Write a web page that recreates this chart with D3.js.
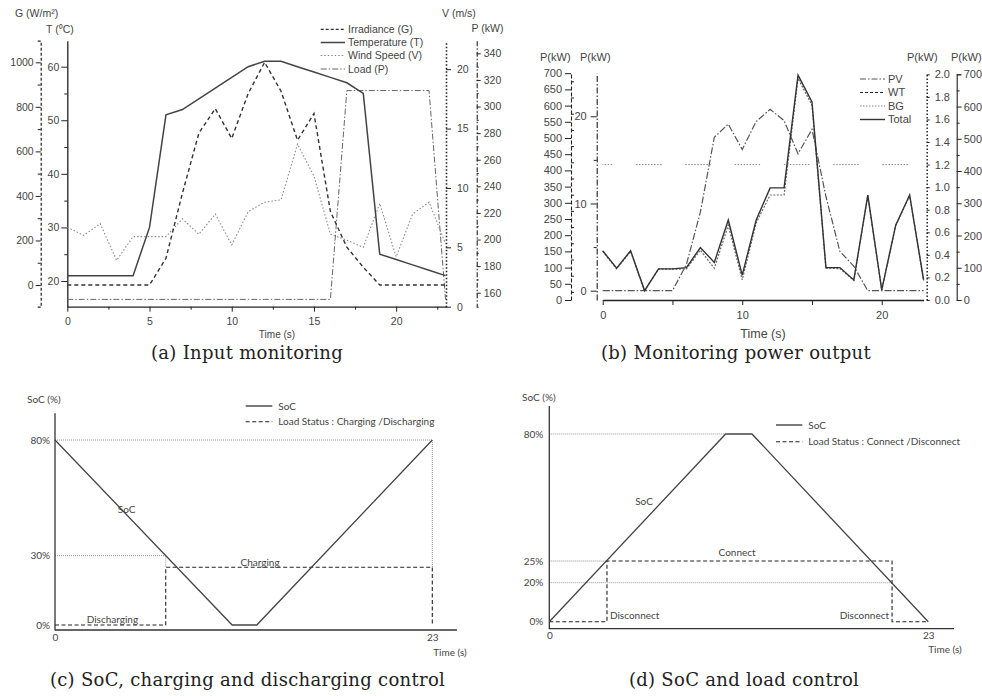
<!DOCTYPE html>
<html>
<head>
<meta charset="utf-8">
<script src="https://cdn.jsdelivr.net/npm/d3@7"></script>
<style>
body { margin: 0; background: #fff; }
svg { display: block; }
.sans text { font-family: "Liberation Sans", Arial, sans-serif; fill: #444; }
.pa text { font-size: 10.5px; }
.pb text { font-size: 11px; }
.soc text { font-family: Lato, "Open Sans", sans-serif; font-size: 10px; fill: #444; }
.cap { font-family: "DejaVu Serif", serif; font-size: 18px; letter-spacing: 0.3px; fill: #222; }
</style>
</head>
<body>
<div id="chart"></div>
<script>
let W = 982;
let H = 696;

// ---- (a) input monitoring ----
let hours = d3.range(0, 24);
let irradiance = [0, 0, 0, 0, 0, 0, 120, 412, 682, 792, 658, 860, 1000, 870, 650, 770, 330, 170, 80, 0, 0, 0, 0, 0];
let temperature = [21, 21, 21, 21, 21, 30, 51, 52, 54, 56, 58, 60, 61, 61, 60, 59, 58, 57, 55, 25, 24, 23, 22, 21];
let windSpeed = [6.7, 6.0, 7.0, 3.9, 5.9, 5.9, 5.9, 7.4, 6.1, 7.8, 5.2, 8.0, 8.8, 9.0, 13.7, 11.0, 6.1, 5.6, 5.0, 8.7, 4.2, 7.8, 8.8, 5.3];
let loadPower = [155, 155, 155, 155, 155, 155, 155, 155, 155, 155, 155, 155, 155, 155, 155, 155, 155, 312, 312, 312, 312, 312, 312, 155];

// ---- (b) power output ----
let pvPower = [0, 0, 0, 0, 0, 0, 3.0, 9.0, 17.6, 19.1, 16.2, 19.4, 20.8, 19.5, 15.7, 18.5, 10.8, 4.5, 2.8, 0, 0, 0, 0, 0];
let wtPower = [150, 96, 150, 28, 95, 95, 96, 154, 98, 231, 62, 238, 324, 324, 684, 601, 98, 97, 60, 322, 30, 229, 322, 60];
let bgPower = [1.2, 1.2, 1.2, 1.2, 1.2, 1.2, 1.2, 1.2, 1.2, 1.2, 1.2, 1.2, 1.2, 1.2, 1.2, 1.2, 1.2, 1.2, 1.2, 1.2, 1.2, 1.2, 1.2, 1.2];
let totalPower = [152, 98, 152, 29, 96, 96, 100, 162, 116, 247, 77, 247, 346, 346, 694, 611, 100, 100, 62, 324, 31, 231, 324, 62];

// ---- (c) SoC, charging / discharging ----
let socCTime = [0, 10.8, 12.3, 23];
let socCValue = [80, 0, 0, 80];
let chargeTime = [0, 6.75, 6.75, 23, 23];
let chargeValue = [0, 0, 25, 25, 0];
let socCTicks = [0, 30, 80];
let guideC = [[0, 80, 23, 80], [23, 80, 23, 25], [0, 30, 6.75, 30], [6.75, 30, 6.75, 25]];

// ---- (d) SoC and load ----
let socDTime = [0, 10.7, 12.3, 23];
let socDValue = [0, 80, 80, 0];
let connectTime = [0, 3.5, 3.5, 20.8, 20.8, 23];
let connectValue = [0, 0, 25, 25, 0, 0];
let socDTicks = [0, 20, 25, 80];
let guideD = [[0, 80, 10.7, 80], [0, 25, 3.5, 25], [0, 20, 20.8, 20]];

let svg = d3.select("#chart").append("svg")
    .attr("width", W)
    .attr("height", H);

function addAxis(parent, axis, tx, ty, dash, width) {
    let g = parent.append("g")
        .attr("transform", "translate(" + tx + "," + ty + ")")
        .call(axis);
    g.attr("font-family", null).attr("font-size", null);
    g.select(".domain")
        .attr("stroke", "#222")
        .attr("stroke-width", width || 1)
        .attr("stroke-dasharray", dash || null);
    g.selectAll(".tick line").attr("stroke", "#222");
    g.selectAll(".tick text").attr("fill", "#444");
    return g;
}

function addMinor(parent, axis, tx, ty) {
    let g = parent.append("g")
        .attr("transform", "translate(" + tx + "," + ty + ")")
        .call(axis.tickFormat(""));
    g.select(".domain").remove();
    g.selectAll(".tick line").attr("stroke", "#222");
}

function legendRow(parent, x1, x2, y, label, stroke, dash, width) {
    parent.append("line")
        .attr("x1", x1).attr("x2", x2)
        .attr("y1", y).attr("y2", y)
        .attr("stroke", stroke)
        .attr("stroke-width", width)
        .attr("stroke-dasharray", dash);
    parent.append("text")
        .attr("x", x2 + 3)
        .attr("y", y)
        .attr("dy", "0.35em")
        .text(label);
}

// =================== (a) ===================
let pa = svg.append("g").attr("class", "sans pa");

let xA = d3.scaleLinear().domain([0, 23]).range([67.3, 445.5]);
let gScale = d3.scaleLinear().domain([-97.4, 1097]).range([306.7, 40.7]);
let tScale = d3.scaleLinear().domain([15.2, 64.85]).range([306.7, 40.7]);
let vScale = d3.scaleLinear().domain([0, 22.4]).range([306.7, 40.7]);
let pScale = d3.scaleLinear().domain([149.5, 349.5]).range([306.7, 40.7]);

addAxis(pa, d3.axisBottom(xA).tickValues([0, 5, 10, 15, 20]).tickSize(5).tickPadding(6).tickSizeOuter(0), 0, 306.7, null, 1.3);
addMinor(pa, d3.axisBottom(xA).tickValues([2.5, 7.5, 12.5, 17.5, 22.5]).tickSize(3), 0, 306.7);

addAxis(pa, d3.axisLeft(gScale).tickValues(d3.range(0, 1001, 200)).tickFormat(d3.format("d"))
    .tickSize(5).tickPadding(2).tickSizeOuter(3), 40.7, 0, "3,2", 1.2);
addMinor(pa, d3.axisLeft(gScale).tickValues(d3.range(100, 1001, 200)).tickSize(3), 40.7, 0);

addAxis(pa, d3.axisLeft(tScale).tickValues([20, 30, 40, 50, 60]).tickSize(6).tickPadding(2).tickSizeOuter(0), 67.3, 0, null, 1.3);
addMinor(pa, d3.axisLeft(tScale).tickValues([25, 35, 45, 55]).tickSize(3), 67.3, 0);

addAxis(pa, d3.axisRight(vScale).tickValues([0, 5, 10, 15, 20]).tickSize(5).tickPadding(6).tickSizeOuter(0), 446, 0, "1.5,2", 1.6);

addAxis(pa, d3.axisRight(pScale).tickValues(d3.range(160, 341, 20)).tickSize(4).tickPadding(3).tickSizeOuter(2), 476.7, 0, "5,2,1.5,2", 1.1);
addMinor(pa, d3.axisRight(pScale).tickValues(d3.range(170, 350, 20)).tickSize(2), 476.7, 0);

// axis titles
pa.append("text").attr("x", 15).attr("y", 16.5).text("G (W/m²)");
pa.append("text").attr("x", 46).attr("y", 33).text("T (⁰C)");
pa.append("text").attr("x", 442).attr("y", 16.5).text("V (m/s)");
pa.append("text").attr("x", 471.5).attr("y", 32).text("P (kW)");
pa.append("text").attr("x", 277).attr("y", 338).attr("text-anchor", "middle")
    .style("font-size", "10px").text("Time (s)");

let lineA = function (scale) {
    return d3.line()
        .x(function (d, i) { return xA(hours[i]); })
        .y(function (d) { return scale(d); });
};

pa.append("path").attr("d", lineA(pScale)(loadPower))
    .attr("fill", "none").attr("stroke", "#666").attr("stroke-width", 1)
    .attr("stroke-dasharray", "6,2,1.5,2");
pa.append("path").attr("d", lineA(vScale)(windSpeed))
    .attr("fill", "none").attr("stroke", "#8a8a8a").attr("stroke-width", 1.1)
    .attr("stroke-dasharray", "1.5,2");
pa.append("path").attr("d", lineA(gScale)(irradiance))
    .attr("fill", "none").attr("stroke", "#333").attr("stroke-width", 1.4)
    .attr("stroke-dasharray", "4,3");
pa.append("path").attr("d", lineA(tScale)(temperature))
    .attr("fill", "none").attr("stroke", "#444").attr("stroke-width", 1.5);

let legA = pa.append("g").style("font-size", "10px");
legendRow(legA, 320.7, 345, 29.3, "Irradiance (G)", "#333", "3,2", 1.2);
legendRow(legA, 320.7, 345, 42.5, "Temperature (T)", "#444", null, 1.5);
legendRow(legA, 320.7, 345, 55.5, "Wind Speed (V)", "#8a8a8a", "1.5,2", 1.1);
legendRow(legA, 320.7, 345, 69, "Load (P)", "#666", "6,2,1.5,2", 1);

// =================== (b) ===================
let pb = svg.append("g").attr("class", "sans pb");

let xB = d3.scaleLinear().domain([0, 23]).range([602.7, 923.6]);
let kwLeft = d3.scaleLinear().domain([0, 700]).range([300, 73.2]);
let pvScale = d3.scaleLinear().domain([-1.07, 24.93]).range([300, 73.3]);
let bgScale = d3.scaleLinear().domain([0, 2]).range([300, 74.3]);
let kwRight = d3.scaleLinear().domain([0, 700]).range([300, 74.3]);

addAxis(pb, d3.axisBottom(xB).tickValues([0, 5, 10, 15, 20]).tickSize(5).tickPadding(6).tickSizeOuter(0)
    .tickFormat(function (d) { return d % 10 === 0 ? d : ""; }), 0, 300, null, 1.3);

addAxis(pb, d3.axisLeft(kwLeft).tickValues(d3.range(0, 701, 50)).tickSize(6).tickPadding(3).tickSizeOuter(0), 571, 0, "4,2", 1.1);
addMinor(pb, d3.axisLeft(kwLeft).tickValues(d3.range(25, 700, 50)).tickSize(-3), 571, 0);

addAxis(pb, d3.axisLeft(pvScale).tickValues([0, 10, 20]).tickSize(6).tickPadding(4).tickSizeOuter(0), 596.7, 0, "6,2,1.5,2", 1.1);
addMinor(pb, d3.axisLeft(pvScale).tickValues([5, 15]).tickSize(3), 596.7, 0);

addAxis(pb, d3.axisRight(bgScale).tickValues(d3.range(0, 2.01, 0.2)).tickFormat(d3.format(".1f")).tickSize(3).tickPadding(5).tickSizeOuter(0), 926.7, 0, "1.5,2", 1.5);

addAxis(pb, d3.axisRight(kwRight).tickValues(d3.range(0, 701, 100)).tickSize(5).tickPadding(2).tickSizeOuter(4), 956.7, 0, null, 1.1);
addMinor(pb, d3.axisRight(kwRight).tickValues(d3.range(50, 700, 100)).tickSize(3), 956.7, 0);

pb.append("text").attr("x", 540).attr("y", 61).text("P(kW)");
pb.append("text").attr("x", 580).attr("y", 61).text("P(kW)");
pb.append("text").attr("x", 907).attr("y", 61).text("P(kW)");
pb.append("text").attr("x", 951).attr("y", 61).text("P(kW)");
pb.append("text").attr("x", 763).attr("y", 338).attr("text-anchor", "middle")
    .style("font-size", "12.5px").text("Time (s)");

let lineB = function (scale) {
    return d3.line()
        .x(function (d, i) { return xB(hours[i]); })
        .y(function (d) { return scale(d); });
};

// BG: dotted runs with gaps
let bgDash = d3.range(9).flatMap(function () { return [1.5, 1.5]; });
bgDash[bgDash.length - 1] += 22.3;

pb.append("path").attr("d", lineB(bgScale)(bgPower))
    .attr("fill", "none").attr("stroke", "#888").attr("stroke-width", 1)
    .attr("stroke-dasharray", bgDash.join(","))
    .attr("stroke-dashoffset", 16);
pb.append("path").attr("d", lineB(pvScale)(pvPower))
    .attr("fill", "none").attr("stroke", "#555").attr("stroke-width", 1.2)
    .attr("stroke-dasharray", "7,2,1.5,2");
pb.append("path").attr("d", lineB(kwLeft)(wtPower))
    .attr("fill", "none").attr("stroke", "#666").attr("stroke-width", 1.2)
    .attr("stroke-dasharray", "2,1.5");
pb.append("path").attr("d", lineB(kwLeft)(totalPower))
    .attr("fill", "none").attr("stroke", "#333").attr("stroke-width", 1.4);

let legB = pb.append("g");
legendRow(legB, 860, 885, 79, "PV", "#555", "6,2,1.5,2", 1.1);
legendRow(legB, 860, 885, 92.5, "WT", "#222", "3,2", 1.2);
legendRow(legB, 860, 885, 106, "BG", "#888", "1.5,1.5", 1);
legendRow(legB, 860, 885, 119.5, "Total", "#333", null, 1.4);

// =================== (c) ===================
let pc = svg.append("g").attr("class", "soc");

let xC = d3.scaleLinear().domain([0, 23]).range([55, 432.3]);
let yC = d3.scaleLinear().domain([0, 80]).range([625, 440]);

guideC.forEach(function (s) {
    pc.append("line")
        .attr("x1", xC(s[0])).attr("y1", yC(s[1]))
        .attr("x2", xC(s[2])).attr("y2", yC(s[3]))
        .attr("stroke", "#777").attr("stroke-width", 0.8)
        .attr("stroke-dasharray", "1,1");
});

pc.append("line").attr("x1", xC(0)).attr("x2", xC(0)).attr("y1", yC(91.6)).attr("y2", 630.5)
    .attr("stroke", "#333").attr("stroke-width", 1.3);
pc.append("line").attr("x1", xC(0)).attr("x2", xC(24.5)).attr("y1", 630).attr("y2", 630)
    .attr("stroke", "#333").attr("stroke-width", 1.3);

let yAxC = pc.append("g").attr("transform", "translate(55,0)")
    .call(d3.axisLeft(yC).tickValues(socCTicks).tickSize(0).tickPadding(5)
        .tickFormat(function (d) { return d + "%"; }));
yAxC.attr("font-family", null).attr("font-size", null);
yAxC.select(".domain").remove();

let xAxC = pc.append("g").attr("transform", "translate(0,630)")
    .call(d3.axisBottom(xC).tickValues([0, 23]).tickSize(0).tickPadding(4));
xAxC.attr("font-family", null).attr("font-size", null);
xAxC.select(".domain").remove();

pc.append("path")
    .attr("d", d3.line().x(function (d, i) { return xC(chargeTime[i]); }).y(function (d) { return yC(d); })(chargeValue))
    .attr("fill", "none").attr("stroke", "#222").attr("stroke-width", 1.1)
    .attr("stroke-dasharray", "4,2.5");
pc.append("path")
    .attr("d", d3.line().x(function (d, i) { return xC(socCTime[i]); }).y(function (d) { return yC(d); })(socCValue))
    .attr("fill", "none").attr("stroke", "#444").attr("stroke-width", 1.3);

pc.append("text").attr("x", 27).attr("y", 402.5).text("SoC (%)");
pc.append("text").attr("x", 450).attr("y", 656).attr("text-anchor", "middle").text("Time (s)");
pc.append("text").attr("x", xC(4.37)).attr("y", yC(50)).attr("dy", "0.35em").attr("text-anchor", "middle").text("SoC");
pc.append("text").attr("x", xC(12.5)).attr("y", yC(25) - 1).attr("text-anchor", "middle").text("Charging");
pc.append("text").attr("x", xC(3.5)).attr("y", yC(0) - 2).attr("text-anchor", "middle").text("Discharging");

let legC = pc.append("g");
legendRow(legC, 245.7, 272.3, 406, "", "#333", null, 1.3);
legendRow(legC, 245.7, 272.3, 421.7, "", "#222", "4,2.5", 1.1);
legC.append("text").attr("x", 278.3).attr("y", 406).attr("dy", "0.35em").text("SoC");
legC.append("text").attr("x", 278.3).attr("y", 421.7).attr("dy", "0.35em").text("Load Status : Charging /Discharging");

// =================== (d) ===================
let pd = svg.append("g").attr("class", "soc");

let xD = d3.scaleLinear().domain([0, 23]).range([549.3, 928.3]);
let yD = d3.scaleLinear().domain([0, 20, 25, 80]).range([621.7, 582.7, 561, 434]);

guideD.forEach(function (s) {
    pd.append("line")
        .attr("x1", xD(s[0])).attr("y1", yD(s[1]))
        .attr("x2", xD(s[2])).attr("y2", yD(s[3]))
        .attr("stroke", "#777").attr("stroke-width", 0.8)
        .attr("stroke-dasharray", "1,1");
});

pd.append("line").attr("x1", xD(0)).attr("x2", xD(0)).attr("y1", 406).attr("y2", 629.2)
    .attr("stroke", "#333").attr("stroke-width", 1.3);
pd.append("line").attr("x1", xD(0)).attr("x2", 954).attr("y1", 628.7).attr("y2", 628.7)
    .attr("stroke", "#333").attr("stroke-width", 1.3);

let yAxD = pd.append("g").attr("transform", "translate(549.3,0)")
    .call(d3.axisLeft(yD).tickValues(socDTicks).tickSize(0).tickPadding(6)
        .tickFormat(function (d) { return d + "%"; }));
yAxD.attr("font-family", null).attr("font-size", null);
yAxD.select(".domain").remove();

let xAxD = pd.append("g").attr("transform", "translate(0,628.7)")
    .call(d3.axisBottom(xD).tickValues([0, 23]).tickSize(0).tickPadding(3));
xAxD.attr("font-family", null).attr("font-size", null);
xAxD.select(".domain").remove();

pd.append("path")
    .attr("d", d3.line().x(function (d, i) { return xD(connectTime[i]); }).y(function (d) { return yD(d); })(connectValue))
    .attr("fill", "none").attr("stroke", "#222").attr("stroke-width", 1.1)
    .attr("stroke-dasharray", "4,2.5");
pd.append("path")
    .attr("d", d3.line().x(function (d, i) { return xD(socDTime[i]); }).y(function (d) { return yD(d); })(socDValue))
    .attr("fill", "none").attr("stroke", "#444").attr("stroke-width", 1.3);

pd.append("text").attr("x", 522).attr("y", 401).text("SoC (%)");
pd.append("text").attr("x", 945).attr("y", 653).attr("text-anchor", "middle").text("Time (s)");
pd.append("text").attr("x", xD(5.75)).attr("y", yD(50.7)).attr("dy", "0.35em").attr("text-anchor", "middle").text("SoC");
pd.append("text").attr("x", xD(11.4)).attr("y", yD(25) - 5).attr("text-anchor", "middle").text("Connect");
pd.append("text").attr("x", xD(3.5) + 3).attr("y", yD(0) - 3).text("Disconnect");
pd.append("text").attr("x", xD(20.8) - 3).attr("y", yD(0) - 3).attr("text-anchor", "end").text("Disconnect");

let legD = pd.append("g");
legendRow(legD, 776, 802.3, 425, "", "#333", null, 1.3);
legendRow(legD, 776, 802.3, 441.7, "", "#222", "4,2.5", 1.1);
legD.append("text").attr("x", 808.3).attr("y", 425).attr("dy", "0.35em").text("SoC");
legD.append("text").attr("x", 808.3).attr("y", 441.7).attr("dy", "0.35em").text("Load Status : Connect /Disconnect");

// =================== captions ===================
let captions = [
    ["(a) Input monitoring", 247, 359],
    ["(b) Monitoring power output", 736, 359],
    ["(c) SoC, charging and discharging control", 247.5, 686],
    ["(d) SoC and load control", 744, 686]
];
captions.forEach(function (c) {
    svg.append("text").attr("class", "cap")
        .attr("x", c[1]).attr("y", c[2])
        .attr("text-anchor", "middle")
        .text(c[0]);
});
</script>
</body>
</html>
